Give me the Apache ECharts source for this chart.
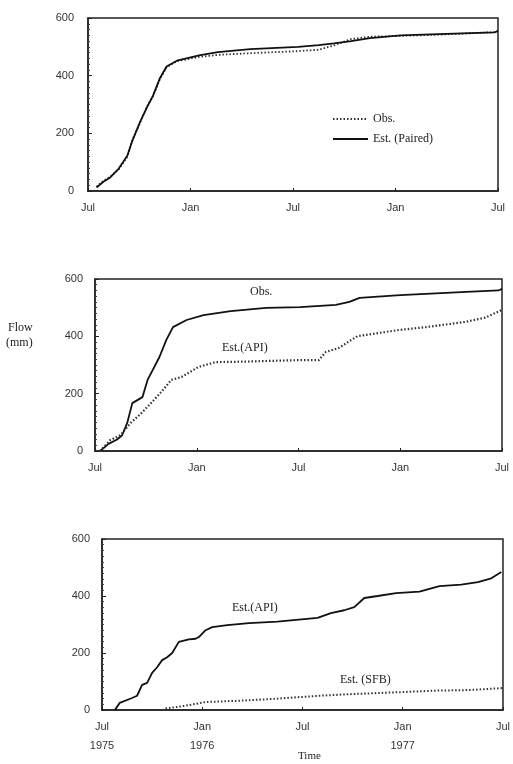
<!DOCTYPE html>
<html>
<head>
<meta charset="utf-8">
<script src="https://cdn.jsdelivr.net/npm/echarts@6/dist/echarts.min.js"></script>
<style>
  html, body { margin: 0; padding: 0; background: #fff; }
  #chart { width: 513px; height: 764px; }
</style>
</head>
<body>
<div id="chart"></div>
<script>
// months since Jul 1975
const tickLabels = ['Jul', 'Jan', 'Jul', 'Jan', 'Jul']
const tickLabelsYear = ['Jul\n1975', 'Jan\n1976', 'Jul', 'Jan\n1977', 'Jul']

// panel 1: Obs. vs Est. (Paired)
const p1ObsMonths = [0.5, 0.9, 1.3, 1.8, 2.3, 2.6, 3.05, 3.45, 3.8, 4.2, 4.6, 5.2, 6.5, 7.6, 9.5, 12.3, 13.5, 14.4, 15.4, 16.5, 18.3, 20.5, 23.8, 24]
const p1ObsFlow = [15, 35, 49, 75, 119, 178, 237, 293, 328, 387, 429, 450, 465, 472, 478, 485, 490, 505, 527, 535, 538, 542, 551, 556]
const p1EstMonths = [0.5, 0.9, 1.3, 1.8, 2.3, 2.6, 3.05, 3.45, 3.8, 4.2, 4.6, 5.2, 6.5, 7.6, 9.5, 12.3, 13.5, 14.4, 15.4, 16.5, 18.3, 20.5, 23.8, 24]
const p1EstFlow = [12, 32, 47, 78, 122, 175, 240, 290, 330, 390, 432, 452, 470, 482, 492, 500, 506, 512, 520, 530, 540, 544, 550, 555]

// panel 2: Obs. vs Est.(API)
const p2ObsMonths = [0.3, 0.8, 1.3, 1.6, 1.9, 2.2, 2.8, 3.1, 3.4, 3.8, 4.2, 4.6, 5.4, 6.4, 8.0, 10.1, 12.1, 14.2, 15.0, 15.6, 18.0, 21.9, 23.8, 24]
const p2ObsFlow = [0, 25, 40, 55, 98, 167, 188, 248, 282, 328, 387, 432, 457, 474, 488, 499, 502, 510, 520, 534, 544, 555, 560, 566]
const p2ApiMonths = [0.3, 0.9, 1.5, 2.1, 2.7, 3.3, 3.9, 4.5, 5.1, 6.1, 7.1, 9.0, 12.0, 13.2, 13.6, 14.4, 15.1, 15.5, 17.9, 19.5, 21.8, 23.0, 24]
const p2ApiFlow = [0, 38, 55, 98, 130, 167, 205, 248, 258, 293, 310, 312, 317, 317, 345, 360, 387, 401, 422, 432, 450, 465, 492]

// panel 3: Est.(API) vs Est. (SFB)
const p3ApiMonths = [0.77, 1.06, 1.8, 2.1, 2.4, 2.7, 3.0, 3.3, 3.6, 3.9, 4.2, 4.6, 5.2, 5.6, 5.8, 6.2, 6.6, 7.5, 8.8, 10.5, 12.9, 13.7, 14.5, 15.1, 15.7, 16.5, 17.6, 19.0, 20.2, 21.5, 22.5, 23.3, 23.9]
const p3ApiFlow = [0, 25, 42, 50, 88, 95, 130, 150, 175, 185, 200, 239, 248, 250, 256, 280, 291, 298, 305, 310, 323, 340, 350, 361, 393, 400, 410, 415, 435, 440, 449, 462, 484]
const p3SfbMonths = [3.8, 5, 6.2, 8, 10, 12, 13, 15, 18, 20, 22, 24]
const p3SfbFlow = [5, 15, 28, 32, 38, 46, 50, 56, 63, 68, 70, 77]

const zip = (xs, ys) => xs.map((x, i) => [x, ys[i]])

const ink = '#222'
const tickFont = { fontFamily: 'Liberation Sans', fontSize: 11, color: '#333' }

const grids = [
  { left: 88, right: 15, top: 18, height: 173 },
  { left: 95, right: 11, top: 279, height: 172 },
  { left: 102, right: 5, top: 539, height: 171 },
].map((g) => ({ ...g, show: true, borderColor: ink, borderWidth: 1.5, backgroundColor: 'transparent' }))

const xAxes = [0, 1, 2].map((i) => ({
  type: 'value',
  gridIndex: i,
  min: 0,
  max: 24,
  interval: 6,
  axisLine: { lineStyle: { color: ink, width: 1.5 } },
  axisTick: { inside: true, length: 3, lineStyle: { color: ink } },
  splitLine: { show: false },
  axisLabel: {
    ...tickFont,
    margin: 7,
    lineHeight: 19,
    formatter: (v) => (i === 2 ? tickLabelsYear : tickLabels)[v / 6],
  },
}))

const yAxes = [14, 12, 12].map((m, i) => ({
  type: 'value',
  gridIndex: i,
  min: 0,
  max: 600,
  interval: 200,
  axisLine: { show: true, lineStyle: { color: ink, width: 1.5 } },
  axisTick: { show: true, inside: true, length: 4, lineStyle: { color: ink } },
  minorTick: { show: true, splitNumber: 10, length: 2, lineStyle: { color: '#444' } },
  splitLine: { show: false },
  axisLabel: { ...tickFont, margin: m },
}))

const solid = (name, idx, data) => ({
  name, type: 'line', xAxisIndex: idx, yAxisIndex: idx, data,
  showSymbol: false, symbol: 'none', color: '#111',
  lineStyle: { color: '#111', width: 1.8 },
})
const dotted = (name, idx, data, w) => ({
  name, type: 'line', xAxisIndex: idx, yAxisIndex: idx, data,
  showSymbol: false, symbol: 'none', color: '#333',
  lineStyle: { color: '#333', width: w, type: [1.5, 2] },
})

const serif = { fontFamily: 'Liberation Serif', fontSize: 12, fill: '#222' }
const txt = (x, y, text, extra) => ({ type: 'text', left: x, top: y, style: { ...serif, text, ...extra } })

const chart = echarts.init(document.getElementById('chart'))
chart.setOption({
  backgroundColor: '#fff',
  animation: false,
  grid: grids,
  xAxis: xAxes,
  yAxis: yAxes,
  legend: {
    data: ['Obs.', 'Est. (Paired)'],
    orient: 'vertical',
    left: 327,
    top: 108,
    itemWidth: 35,
    itemHeight: 12,
    itemGap: 8,
    itemStyle: { opacity: 0 },
    textStyle: { fontFamily: 'Liberation Serif', fontSize: 12, color: '#222' },
  },
  series: [
    dotted('Obs.', 0, zip(p1ObsMonths, p1ObsFlow), 1.8),
    solid('Est. (Paired)', 0, zip(p1EstMonths, p1EstFlow)),
    solid('Obs. 2', 1, zip(p2ObsMonths, p2ObsFlow)),
    dotted('Est.(API) 2', 1, zip(p2ApiMonths, p2ApiFlow), 2.2),
    solid('Est.(API) 3', 2, zip(p3ApiMonths, p3ApiFlow)),
    dotted('Est. (SFB)', 2, zip(p3SfbMonths, p3SfbFlow), 2),
  ],
  graphic: [
    txt(8, 322, 'Flow'),
    txt(6, 337, '(mm)'),
    txt(250, 286, 'Obs.'),
    txt(222, 342, 'Est.(API)'),
    txt(232, 602, 'Est.(API)'),
    txt(340, 674, 'Est. (SFB)'),
    txt(298, 751, 'Time', { fontSize: 11 }),
  ],
})
</script>
</body>
</html>
